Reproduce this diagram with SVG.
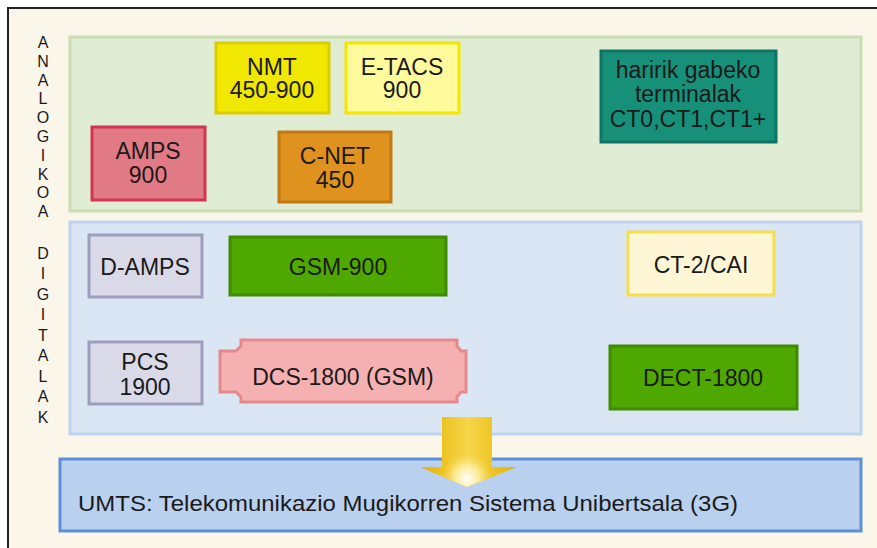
<svg xmlns="http://www.w3.org/2000/svg" width="877" height="548" viewBox="0 0 877 548">
  <style>
    .lbl { font-family: "Liberation Sans", Arial, sans-serif; font-size: 23px; fill: #1a1a1a; text-anchor: middle; }
    .side { font-family: "Liberation Sans", Arial, sans-serif; font-size: 16px; fill: #1a1a1a; text-anchor: middle; }
    .box { stroke-width: 3; }
  </style>
  <defs>
    <linearGradient id="arrowBody" x1="0" y1="0" x2="1" y2="0">
      <stop offset="0" stop-color="#e4b300"/>
      <stop offset="0.5" stop-color="#f6d64a"/>
      <stop offset="1" stop-color="#e4b300"/>
    </linearGradient>
    <radialGradient id="arrowGlow" cx="467" cy="478" r="26" gradientUnits="userSpaceOnUse">
      <stop offset="0" stop-color="#ffffff" stop-opacity="1"/>
      <stop offset="0.5" stop-color="#fff4b8" stop-opacity="0.7"/>
      <stop offset="1" stop-color="#f6d64a" stop-opacity="0"/>
    </radialGradient>
  </defs>

  <!-- page and frame -->
  <rect x="0" y="0" width="877" height="548" fill="#ffffff"/>
  <rect x="8" y="8" width="890" height="560" fill="#fbf6ea" stroke="#222222" stroke-width="2"/>

  <!-- analog band -->
  <g id="analog-band">
    <rect x="70" y="37" width="791" height="174" fill="#e1ecd4" stroke="#c9deb1" stroke-width="3"/>
    <g class="side">
      <text x="43" y="48">A</text>
      <text x="43" y="67">N</text>
      <text x="43" y="86">A</text>
      <text x="43" y="104">L</text>
      <text x="43" y="123">O</text>
      <text x="43" y="142">G</text>
      <text x="43" y="161">I</text>
      <text x="43" y="180">K</text>
      <text x="43" y="198">O</text>
      <text x="43" y="217">A</text>
    </g>
  </g>

  <!-- digital band -->
  <g id="digital-band">
    <rect x="70" y="222" width="791" height="212" fill="#dae6f3" stroke="#bed4ee" stroke-width="3"/>
    <g class="side">
      <text x="43" y="259">D</text>
      <text x="43" y="279">I</text>
      <text x="43" y="300">G</text>
      <text x="43" y="320">I</text>
      <text x="43" y="341">T</text>
      <text x="43" y="361">A</text>
      <text x="43" y="382">L</text>
      <text x="43" y="402">A</text>
      <text x="43" y="423">K</text>
    </g>
  </g>

  <!-- analog systems -->
  <g id="nmt">
    <rect class="box" x="216" y="43" width="113" height="70" fill="#f0e800" stroke="#d9cf00"/>
    <text class="lbl" x="272" y="75">NMT</text>
    <text class="lbl" x="272" y="98">450-900</text>
  </g>
  <g id="etacs">
    <rect class="box" x="346" y="43" width="113" height="70" fill="#fffb9c" stroke="#f3e600"/>
    <text class="lbl" x="402" y="75">E-TACS</text>
    <text class="lbl" x="402" y="98">900</text>
  </g>
  <g id="amps">
    <rect class="box" x="92" y="127" width="113" height="73" fill="#e17a84" stroke="#d53352"/>
    <text class="lbl" x="148" y="159">AMPS</text>
    <text class="lbl" x="148" y="183">900</text>
  </g>
  <g id="cnet">
    <rect class="box" x="279" y="132" width="112" height="70" fill="#e0921e" stroke="#c27a16"/>
    <text class="lbl" x="335" y="164">C-NET</text>
    <text class="lbl" x="335" y="188">450</text>
  </g>
  <g id="cordless-analog">
    <rect class="box" x="601" y="51" width="175" height="91" fill="#17907a" stroke="#0e7464"/>
    <text class="lbl" x="688" y="78">haririk gabeko</text>
    <text class="lbl" x="688" y="102">terminalak</text>
    <text class="lbl" x="688" y="127">CT0,CT1,CT1+</text>
  </g>

  <!-- digital systems -->
  <g id="damps">
    <rect class="box" x="89" y="235" width="113" height="62" fill="#d9d9e8" stroke="#9d9dbd"/>
    <text class="lbl" x="145" y="275">D-AMPS</text>
  </g>
  <g id="gsm900">
    <rect class="box" x="230" y="237" width="216" height="58" fill="#4fa800" stroke="#3f8c00"/>
    <text class="lbl" x="338" y="275">GSM-900</text>
  </g>
  <g id="ct2">
    <rect class="box" x="628" y="232" width="146" height="63" fill="#fff6d6" stroke="#f4df4c"/>
    <text class="lbl" x="701" y="273">CT-2/CAI</text>
  </g>
  <g id="pcs1900">
    <rect class="box" x="89" y="342" width="113" height="62" fill="#d9d9e8" stroke="#9d9dbd"/>
    <text class="lbl" x="145" y="370">PCS</text>
    <text class="lbl" x="145" y="395">1900</text>
  </g>
  <g id="dcs1800">
    <path class="box" d="M241,340 H457 V346 L461,351 H466 V392 H461 L457,397 V402 H241 V397 L236,392 H220 V351 H236 L241,346 Z" fill="#f5b0b2" stroke="#e48a8e"/>
    <text class="lbl" x="343" y="385">DCS-1800 (GSM)</text>
  </g>
  <g id="dect1800">
    <rect class="box" x="610" y="346" width="187" height="63" fill="#4fa800" stroke="#3f8c00"/>
    <text class="lbl" x="703" y="386">DECT-1800</text>
  </g>

  <!-- third generation -->
  <g id="umts">
    <rect x="60" y="459" width="801" height="72" fill="#b9d0ee" stroke="#5f8fd8" stroke-width="3"/>
    <text x="78" y="511" font-family="'Liberation Sans', Arial, sans-serif" font-size="22" fill="#1a1a1a" textLength="660" lengthAdjust="spacingAndGlyphs">UMTS: Telekomunikazio Mugikorren Sistema Unibertsala (3G)</text>
  </g>

  <!-- evolution arrow -->
  <g id="connectors">
    <path d="M442,417 H492 V467 H517 L467,487 L420,467 H442 Z" fill="url(#arrowBody)"/>
    <path d="M442,417 H492 V467 H517 L467,487 L420,467 H442 Z" fill="url(#arrowGlow)"/>
  </g>
</svg>
